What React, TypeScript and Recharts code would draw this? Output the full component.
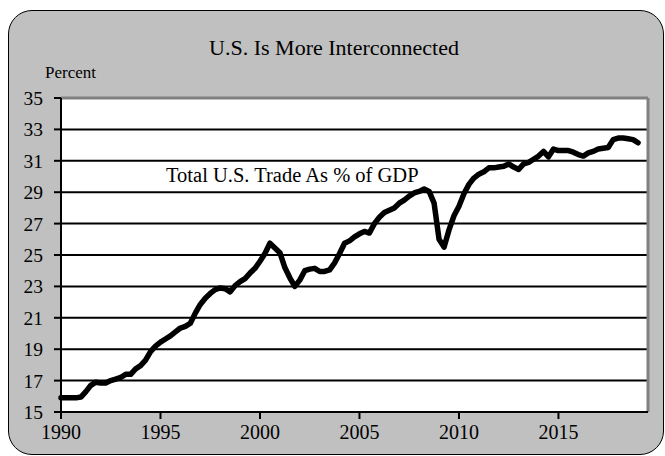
import React from 'react';
import { LineChart, Line, XAxis, YAxis, CartesianGrid, ReferenceLine } from 'recharts';

const startYear = 1990;
const tradeShare = [
  15.9, 15.9, 15.9, 15.9,
  15.95, 16.3, 16.7, 16.9,
  16.85, 16.85, 17.0, 17.1,
  17.2, 17.4, 17.4, 17.75,
  17.95, 18.3, 18.85, 19.2,
  19.45, 19.65, 19.85, 20.1,
  20.35, 20.45, 20.65, 21.3,
  21.85, 22.25, 22.55, 22.8,
  22.9, 22.85, 22.65, 23.05,
  23.3, 23.5, 23.85, 24.15,
  24.6, 25.1, 25.75, 25.45,
  25.15, 24.2, 23.55, 23.0,
  23.4, 24.0, 24.1, 24.15,
  23.95, 23.95, 24.05, 24.5,
  25.1, 25.75, 25.9, 26.15,
  26.35, 26.5, 26.4, 27.0,
  27.4, 27.7, 27.85, 28.0,
  28.3, 28.5, 28.75, 28.95,
  29.05, 29.2, 29.05, 28.3,
  26.0, 25.5, 26.6, 27.5,
  28.1, 28.9, 29.5, 29.9,
  30.15, 30.3, 30.55, 30.55,
  30.6, 30.65, 30.8, 30.6,
  30.45, 30.8, 30.9, 31.1,
  31.3, 31.6, 31.25, 31.75,
  31.65, 31.65, 31.65, 31.55,
  31.4, 31.3, 31.5, 31.6,
  31.75, 31.8, 31.85, 32.35,
  32.45, 32.45, 32.4, 32.35,
  32.15,
];
const xTicks = [1990, 1995, 2000, 2005, 2010, 2015];
const yTicks = [15, 17, 19, 21, 23, 25, 27, 29, 31, 33, 35];
const title = 'U.S. Is More Interconnected';
const unitLabel = 'Percent';
const seriesLabel = 'Total U.S. Trade As % of GDP';

const data = tradeShare.map((v, i) => ({ t: startYear + i / 4, v }));

const FONT = '"Liberation Serif", "Times New Roman", serif';

export default function App() {
  return (
    <div style={{ position: 'fixed', left: 0, top: 0, width: 665, height: 456, overflow: 'hidden', background: '#fff' }}>
      <div
        style={{
          position: 'absolute',
          left: 8,
          top: 10,
          width: 656,
          height: 445,
          boxSizing: 'border-box',
          border: '1px solid #000',
          borderRadius: 24,
          background: '#c0c0c0',
        }}
      />
      <div style={{ position: 'absolute', left: 0, top: 0 }}>
        <LineChart
          width={665}
          height={456}
          data={data}
          margin={{ top: 98, right: 17, bottom: 14, left: 11 }}
        >
          <CartesianGrid
            vertical={false}
            stroke="#000"
            strokeWidth={2}
            fill="#fff"
            fillOpacity={1}
          />
          <XAxis
            dataKey="t"
            type="number"
            domain={[1990, 2019.5]}
            ticks={xTicks}
            height={30}
            tickSize={7}
            tickMargin={6}
            axisLine={{ stroke: '#000', strokeWidth: 2 }}
            tickLine={{ stroke: '#000', strokeWidth: 2 }}
            tick={{ fill: '#000', fontSize: 20, fontFamily: FONT }}
            interval={0}
          />
          <YAxis
            type="number"
            domain={[15, 35]}
            ticks={yTicks}
            width={50}
            tickSize={7}
            tickMargin={11}
            axisLine={{ stroke: '#000', strokeWidth: 2 }}
            tickLine={{ stroke: '#000', strokeWidth: 2 }}
            tick={{ fill: '#000', fontSize: 19.5, fontFamily: FONT }}
            interval={0}
          />
          <ReferenceLine y={35} stroke="#808080" strokeWidth={3} />
          <ReferenceLine x={2019.5} stroke="#808080" strokeWidth={3} />
          <Line
            type="linear"
            dataKey="v"
            stroke="#000"
            strokeWidth={5.5}
            dot={false}
            strokeLinejoin="round"
            strokeLinecap="round"
            isAnimationActive={false}
          />
        </LineChart>
      </div>
      <svg
        width={665}
        height={456}
        style={{ position: 'absolute', left: 0, top: 0, pointerEvents: 'none' }}
      >
        <text x={334} y={55} textAnchor="middle" fontFamily={FONT} fontSize={22} fill="#000">
          {title}
        </text>
        <text x={45} y={78} fontFamily={FONT} fontSize={17} fill="#000">
          {unitLabel}
        </text>
        <text x={166} y={182} fontFamily={FONT} fontSize={20.5} fill="#000">
          {seriesLabel}
        </text>
      </svg>
    </div>
  );
}
